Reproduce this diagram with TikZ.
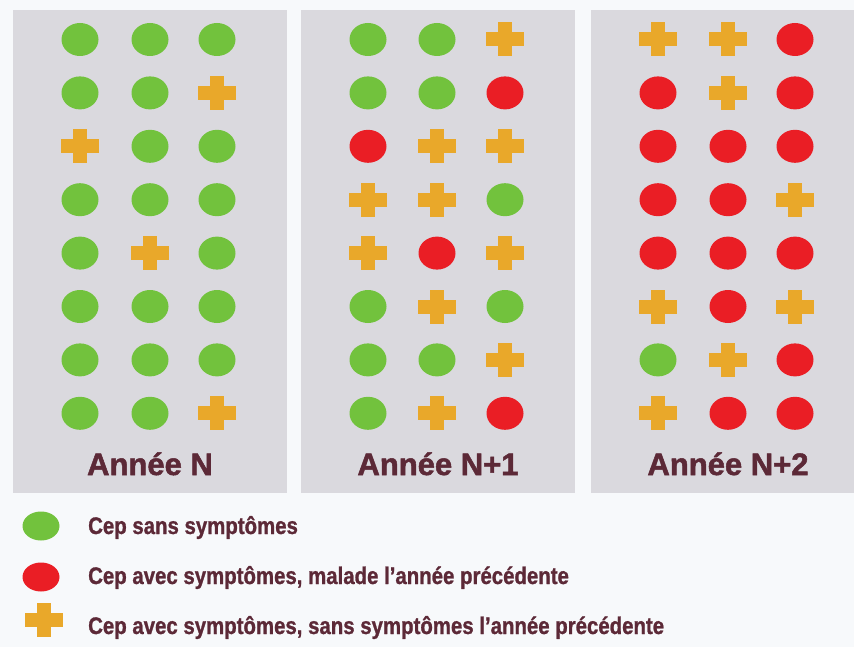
\documentclass[tikz,border=0pt]{standalone}
\usepackage{fontspec}
\setmainfont{Liberation Sans}
\newfontfamily\legfont[FakeStretch=0.85,FakeBold=1]{Liberation Sans}
\newfontfamily\titfont[FakeBold=1.6]{Liberation Sans}
\usetikzlibrary{shapes.geometric}
\definecolor{fond}{HTML}{F7F9FB}
\definecolor{panneau}{HTML}{DAD9DE}
\definecolor{vertcep}{HTML}{72C23D}
\definecolor{rougecep}{HTML}{EA1E25}
\definecolor{jaunecep}{HTML}{E9A82A}
\definecolor{texte}{HTML}{5C2937}
\tikzset{
  vert/.style={ellipse,fill=vertcep,minimum width=37pt,minimum height=33pt,inner sep=0pt},
  rouge/.style={ellipse,fill=rougecep,minimum width=37pt,minimum height=33pt,inner sep=0pt},
  croix/.style={minimum width=38pt,minimum height=34pt,inner sep=0pt,
    path picture={
      \fill[jaunecep] ([yshift=-7pt]path picture bounding box.west) rectangle ([yshift=7pt]path picture bounding box.east);
      \fill[jaunecep] ([xshift=-7pt]path picture bounding box.south) rectangle ([xshift=7pt]path picture bounding box.north);}},
  titre/.style={text=texte,font=\titfont\fontsize{31}{31}\selectfont\bfseries,anchor=base,inner sep=0pt},
  legende/.style={text=texte,font=\legfont\fontsize{24}{24}\selectfont\bfseries,anchor=base west,inner sep=0pt}
}

\begin{document}
\begin{tikzpicture}[x=1pt,y=-1pt]
            \fill[fond] (0,0) rectangle (854,647);
            \useasboundingbox (0,0) rectangle (854,647);
            \fill[panneau] (13,10) rectangle (287,493);
            \fill[panneau] (301,10) rectangle (575,493);
            \fill[panneau] (591,10) rectangle (854,493);
            % annee N
            \foreach \a/\b/\c [count=\i] in {vert/vert/vert, vert/vert/croix, croix/vert/vert, vert/vert/vert,
                vert/croix/vert, vert/vert/vert, vert/vert/vert, vert/vert/croix}{
                \node[\a] (n-\i-1) at (80,{39.5+53.4*(\i-1)}) {};
                \node[\b] (n-\i-2) at (150,{39.5+53.4*(\i-1)}) {};
                \node[\c] (n-\i-3) at (217,{39.5+53.4*(\i-1)}) {};
            }
            % annee N+1
            \foreach \a/\b/\c [count=\i] in {vert/vert/croix, vert/vert/rouge, rouge/croix/croix, croix/croix/vert,
                croix/rouge/croix, vert/croix/vert, vert/vert/croix, vert/croix/rouge}{
                \node[\a] (m-\i-1) at (368,{39.5+53.4*(\i-1)}) {};
                \node[\b] (m-\i-2) at (437,{39.5+53.4*(\i-1)}) {};
                \node[\c] (m-\i-3) at (505,{39.5+53.4*(\i-1)}) {};
            }
            % annee N+2
            \foreach \a/\b/\c [count=\i] in {croix/croix/rouge, rouge/croix/rouge, rouge/rouge/rouge, rouge/rouge/croix,
                rouge/rouge/rouge, croix/rouge/croix, vert/croix/rouge, croix/rouge/rouge}{
                \node[\a] (p-\i-1) at (658,{39.5+53.4*(\i-1)}) {};
                \node[\b] (p-\i-2) at (728,{39.5+53.4*(\i-1)}) {};
                \node[\c] (p-\i-3) at (795,{39.5+53.4*(\i-1)}) {};
            }
            \node[titre] (titreN) at (150,475) {Année N};
            \node[titre] (titreN1) at (438,475) {Année N+1};
            \node[titre] (titreN2) at (728,475) {Année N+2};
            % legende
            \node[vert,minimum height=29pt] (legvert) at (41,526) {};
            \node[rouge,minimum height=29pt] (legrouge) at (41,577) {};
            \node[croix] (legcroix) at (44,620) {};
            \node[legende] (txtvert) at (88,534) {Cep sans symptômes};
            \node[legende] (txtrouge) at (88,584) {Cep avec symptômes, malade l’année précédente};
            \node[legende] (txtcroix) at (88,634) {Cep avec symptômes, sans symptômes l’année précédente};
        \end{tikzpicture}
\end{document}
